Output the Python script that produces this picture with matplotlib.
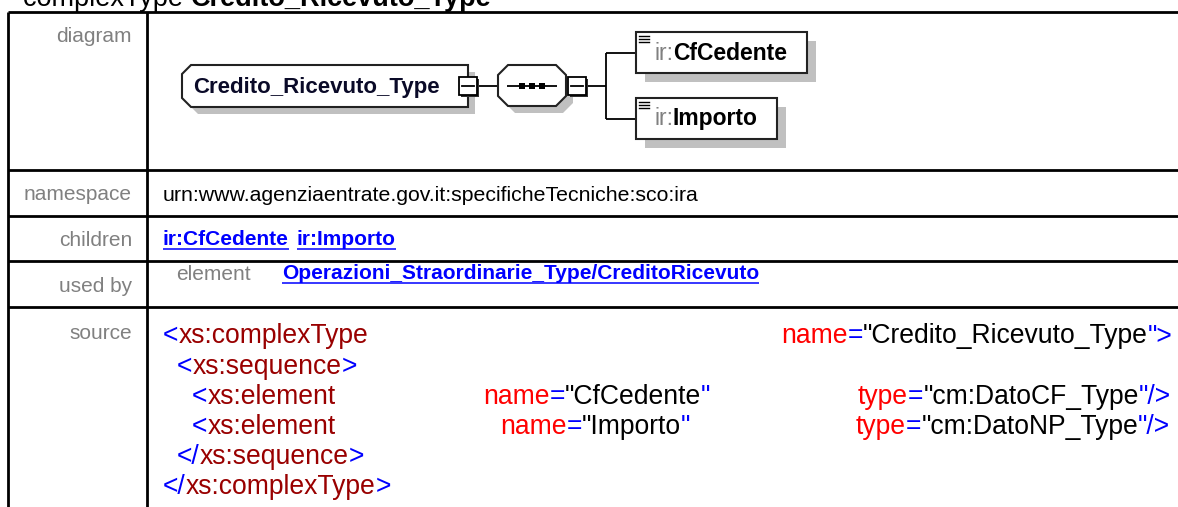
import matplotlib
matplotlib.use("Agg")
import matplotlib.pyplot as plt
from matplotlib.patches import Polygon, Rectangle

# ---------------- data ----------------
title_kind = "complexType"
title_name = "Credito_Ricevuto_Type"
row_labels = ["diagram", "namespace", "children", "used by", "source"]
namespace_value = "urn:www.agenziaentrate.gov.it:specificheTecniche:sco:ira"
children = ["ir:CfCedente", "ir:Importo"]
used_by_kind = "element"
used_by_link = "Operazioni_Straordinarie_Type/CreditoRicevuto"
diagram_root = "Credito_Ricevuto_Type"
diagram_children = [("ir:", "CfCedente"), ("ir:", "Importo")]

BLUE = "#0000ff"
DRED = "#990000"
RED = "#ff0000"
BLK = "#000000"
GRAY = "#808080"

source_lines = [
    [(163, [("<", BLUE), ("xs:complexType", DRED)]),
     (781, [("name", RED), ("=", BLUE), ('"Credito_Ricevuto_Type', BLK), ('">', BLUE)])],
    [(177, [("<", BLUE), ("xs:sequence", DRED), (">", BLUE)])],
    [(192, [("<", BLUE), ("xs:element", DRED)]),
     (483, [("name", RED), ("=", BLUE), ('"CfCedente', BLK), ('"', BLUE)]),
     (858, [("type", RED), ("=", BLUE), ('"cm:DatoCF_Type', BLK), ('"/>', BLUE)])],
    [(192, [("<", BLUE), ("xs:element", DRED)]),
     (500, [("name", RED), ("=", BLUE), ('"Importo', BLK), ('"', BLUE)]),
     (856, [("type", RED), ("=", BLUE), ('"cm:DatoNP_Type', BLK), ('"/>', BLUE)])],
    [(177, [("</", BLUE), ("xs:sequence", DRED), (">", BLUE)])],
    [(163, [("</", BLUE), ("xs:complexType", DRED), (">", BLUE)])],
]

# ---------------- figure ----------------
W, H = 1178, 507
fig = plt.figure(figsize=(W / 100, H / 100), dpi=100)
ax = fig.add_axes([0, 0, 1, 1])
ax.set_xlim(0, W)
ax.set_ylim(H, 0)
ax.axis("off")
fig.canvas.draw()
renderer = fig.canvas.get_renderer()
FONT = "Liberation Sans"


def put_runs(x, y, parts, size, weight="normal", underline=None):
    """Draw coloured text runs one after the other starting at x (baseline y)."""
    x0 = x
    for s, color, *rest in parts:
        w = rest[0] if rest else weight
        t = ax.text(x, y, s, fontsize=size, color=color, family=FONT,
                    fontweight=w, va="baseline", ha="left", zorder=6)
        bb = t.get_window_extent(renderer)
        x += bb.width
    if underline is not None:
        ax.plot([x0, x], [y + underline[0], y + underline[0]],
                color=underline[1], lw=1.1, solid_capstyle="butt", zorder=6)
    return x


# ---------------- title ----------------
put_runs(23, 6, [(title_kind + " ", BLK, "normal"), (title_name, BLK, "bold")], 19.5)

# ---------------- table grid ----------------
LW = 2.0
x_left, x_div = 7.5, 147
rows_y = [12, 170, 216, 261, 307]
for yy in rows_y:
    ax.plot([x_left, W + 5], [yy, yy], color="black", lw=LW, solid_capstyle="butt")
ax.plot([x_left, x_left], [12, H + 5], color="black", lw=LW, solid_capstyle="butt")
ax.plot([x_div, x_div], [12, H + 5], color="black", lw=LW, solid_capstyle="butt")

# ---------------- left labels ----------------
label_base = [42, 200, 246, 292, 339]
for lab, yb in zip(row_labels, label_base):
    ax.text(132, yb, lab, fontsize=15, color=GRAY, family=FONT,
            va="baseline", ha="right")

# namespace
ax.text(163, 201, namespace_value, fontsize=15.3, color=BLK, family=FONT,
        va="baseline", ha="left")

# children links
cx = 163
for ch in children:
    end = put_runs(cx, 245, [(ch, BLUE, "bold")], 15, underline=(3.5, BLUE))
    cx = end + 8

# used by
ax.text(176, 280, used_by_kind, fontsize=15, color=GRAY, family=FONT,
        va="baseline", ha="left")
put_runs(282, 279, [(used_by_link, BLUE, "bold")], 15, underline=(3.5, BLUE))

# source
src_base = [343, 374, 404, 434, 464, 494]
for segs, yb in zip(source_lines, src_base):
    for sx, parts in segs:
        put_runs(sx, yb, parts, 19.1)

# ---------------- diagram ----------------
SH = "#c0c0c0"
EC = "#222222"


def chamfer_poly(x0, y0, x1, y1, c, left=True, right=False):
    pts = []
    if left:
        pts += [(x0, y0 + c), (x0 + c, y0)]
    else:
        pts += [(x0, y0)]
    if right:
        pts += [(x1 - c, y0), (x1, y0 + c), (x1, y1 - c), (x1 - c, y1)]
    else:
        pts += [(x1, y0), (x1, y1)]
    if left:
        pts += [(x0 + c, y1), (x0, y1 - c)]
    else:
        pts += [(x0, y1)]
    return pts


def shape(pts, dx=8, dy=8, lw=1.5):
    sh = [(px + dx, py + dy) for px, py in pts]
    ax.add_patch(Polygon(sh, closed=True, facecolor=SH, edgecolor="none", zorder=2))
    ax.add_patch(Polygon(pts, closed=True, facecolor="white", edgecolor=EC, lw=lw, zorder=3))


def minus_box(cx, cy, s=18):
    x0, y0 = cx - s / 2, cy - s / 2
    ax.add_patch(Rectangle((x0 + 2, y0 + 2), s, s, facecolor="#303030", edgecolor="none", zorder=3))
    ax.add_patch(Rectangle((x0, y0), s, s, facecolor="white", edgecolor="black", lw=1.3, zorder=4))
    ax.plot([x0 + 3, x0 + s - 3], [cy, cy], color="black", lw=1.3, zorder=5)


def line(xs, ys, z=2):
    ax.plot(xs, ys, color="black", lw=1.3, zorder=z, solid_capstyle="butt")


# root element
shape(chamfer_poly(182, 65, 468, 107, 9), dx=7, dy=7)
put_runs(193, 93, [(diagram_root, "#0a0a28", "bold")], 16)
minus_box(468, 86)
line([477, 498], [86, 86])

# sequence compositor
shape(chamfer_poly(498, 65, 566, 106, 10, left=True, right=True), dx=7, dy=7)
line([507, 557], [86, 86], z=4)
for sqx in (522, 532, 542):
    ax.add_patch(Rectangle((sqx - 3, 83), 6, 6, facecolor="black", edgecolor="none", zorder=5))
minus_box(577, 86)
line([586, 606], [86, 86])

# branches
child_boxes = [(636, 32, 807, 73, 60), (636, 98, 777, 139, 125)]
line([606, 606], [52.5, 118.5])
for (x0, y0, x1, y1, yb), (pre, nm) in zip(child_boxes, diagram_children):
    line([606, x0], [(y0 + y1) / 2, (y0 + y1) / 2])
    shape([(x0, y0), (x1, y0), (x1, y1), (x0, y1)], dx=9, dy=9)
    for k in range(3):
        ax.plot([x0 + 3, x0 + 13], [y0 + 4 + 3 * k, y0 + 4 + 3 * k], color="black", lw=1.0, zorder=5)
    put_runs(654, yb, [(pre, GRAY, "normal"), (nm, BLK, "bold")], 16.5)

fig.savefig("out.png", dpi=100)
